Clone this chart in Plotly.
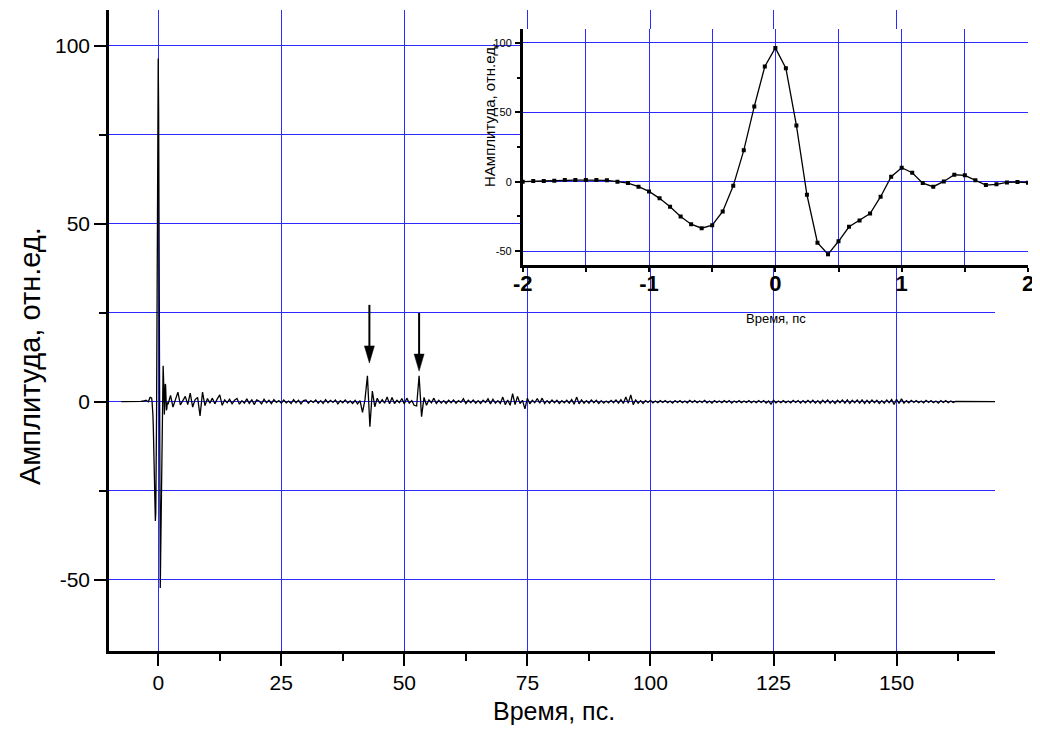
import plotly.graph_objects as go

# ---------------- data ----------------
# signal before the inset window (t = -7.5 ... -2.5, step 0.5 ps)
pre_t0, pre_dt = -7.5, 0.5
pre_amp = [0.0, 0.0, 0.1, 0.0, -0.1, 0.0, 0.1, 0.0, 0.1, 0.2, 0.4]

# main pulse, shown in the inset (t = -2 ... 2, step 1/12 ps)
inset_t0, inset_dt = -2.0, 1.0 / 12.0
inset_amp = [0.0, 0.5, 0.5, 0.7, 1.2, 1.2, 1.2, 1.2, 1.0, 0.0,
             -1.0, -3.6, -7.0, -12.0, -18.0, -25.0, -30.6, -33.5, -31.3, -21.4,
             -3.0, 22.6, 54.2, 83.0, 96.4, 81.7, 40.5, -9.4, -43.9, -52.3,
             -42.9, -32.5, -28.0, -22.9, -10.8, 3.6, 10.1, 6.5, -1.0, -3.6,
             0.2, 5.0, 4.6, 1.0, -2.4, -1.9, -0.5, -0.2, -0.7]

# signal after the pulse (t = 2.5 ... 170, step 0.5 ps)
post_t0, post_dt = 2.5, 0.5
post_amp = [
    1.8, -1.5, 0.8, 2.7, -0.9, 0.4, 1.5, -0.8, 2.4, -1.5,      # 2.5 - 7
    0.6, 1.2, -4.0, 2.7, -1.1, 0.9, -0.4, 1.0, -0.6, 0.8,      # 7.5 - 12
    1.9, -1.0, 0.5, -0.3, 0.7, -0.6, 0.4, 0.9, -0.7, 0.3,      # 12.5 - 17
    -0.4, 0.8, -0.5, 0.6, -0.8, 0.5, 0.2, -0.6, 0.7, -0.3,     # 17.5 - 22
    0.4, -0.5, 0.6, -0.2, 0.3, -0.4, 0.5, -0.3, 0.2, -0.5,     # 22.5 - 27
    0.6, -0.3, 0.4, -0.6, 0.3, 0.5, -0.4, 0.3, -0.2, 0.5,      # 27.5 - 32
    -0.4, 0.3, -0.5, 0.6, -0.3, 0.4, -0.2, 0.5, -0.6, 0.3,     # 32.5 - 37
    -0.3, 0.5, -0.4, 0.2, -0.5, 0.4, -0.6, 0.3, -3.0, 0.5,     # 37.5 - 42
    7.3, -7.0, 3.0, -1.4, 1.0, -0.5, 0.6, -0.4, 1.3, -0.6,     # 42.5 - 47
    1.2, -0.5, 0.4, -0.3, 0.9, -0.6, 1.0, -0.4, 0.3, -1.0,     # 47.5 - 52
    -1.2, 7.3, -4.2, 1.2, -1.0, 0.5, -0.3, 1.0, -0.5, 0.4,     # 52.5 - 57
    -0.4, 0.3, -0.5, 0.4, -0.3, 0.5, -0.4, 0.3, -0.2, 0.8,     # 57.5 - 62
    -0.5, 0.4, -0.3, 0.5, -0.4, 0.3, -0.5, 0.4, -0.2, 0.8,     # 62.5 - 67
    -0.6, 0.7, -0.4, 0.3, -0.5, 1.3, -0.8, 0.5, -1.0, 2.3,     # 67.5 - 72
    -0.8, 1.5, -0.5, 0.4, -2.0, 1.0, -0.6, 0.4, -0.3, 0.9,     # 72.5 - 77
    -0.4, 1.0, -0.5, 0.3, -0.4, 0.5, -0.3, 0.4, -0.5, 0.3,     # 77.5 - 82
    -0.3, 0.4, -0.4, 0.6, -0.7, 1.3, -0.6, 0.5, -0.4, 0.3,     # 82.5 - 87
    -0.4, 0.5, -0.3, 0.4, -0.5, 0.3, -0.4, 0.2, -0.3, 0.4,     # 87.5 - 92
    -0.3, 0.5, -0.4, 0.6, -0.5, 1.3, -0.4, 1.9, -0.8, 0.5,     # 92.5 - 97
    -0.4, 0.3, -0.5, 0.3, -0.2, 0.4, -0.3, 0.2, -0.3, 0.3,     # 97.5 - 102
    -0.2, 0.3, -0.3, 0.2, -0.4, 0.3, -0.2, 0.3, -0.3, 0.2,     # 102.5 - 107
    -0.3, 0.4, -0.2, 0.3, -0.3, 0.2, -0.2, 0.4, -0.3, 0.2,     # 107.5 - 112
    -0.4, 0.3, -0.2, 0.2, -0.3, 0.3, -0.2, 0.3, -0.4, 0.2,     # 112.5 - 117
    -0.2, 0.3, -0.3, 0.2, -0.2, 0.3, -0.3, 0.2, -0.3, 0.3,     # 117.5 - 122
    -0.2, 0.3, -0.4, 0.2, -0.7, 0.4, -0.3, 0.2, -0.3, 0.3,     # 122.5 - 127
    -0.3, 0.2, -0.3, 0.4, -0.2, 0.3, -0.4, 0.3, -0.3, 0.4,     # 127.5 - 132
    -0.3, 0.4, -0.4, 0.3, -0.5, 0.4, -0.3, 0.5, -0.4, 0.3,     # 132.5 - 137
    -0.5, 0.4, -0.3, 0.5, -0.4, 0.5, -0.5, 0.4, -0.3, 0.5,     # 137.5 - 142
    -0.4, 0.5, -0.5, 0.4, -0.4, 0.5, -0.3, 0.4, -0.5, 0.3,     # 142.5 - 147
    -0.4, 0.5, -0.3, 0.6, -0.8, 0.7, -0.5, 0.8, -0.4, 0.3,     # 147.5 - 152
    -0.3, 0.4, -0.2, 0.3, -0.3, 0.2, -0.3, 0.4, -0.2, 0.3,     # 152.5 - 157
    -0.3, 0.2, -0.4, 0.3, -0.2, 0.3, -0.3, 0.2, -0.2, 0.1,     # 157.5 - 162
    0.1, 0.0, 0.0, 0.0, 0.0, 0.0, 0.0, 0.0, 0.0, 0.0,          # 162.5 - 167
    0.0, 0.0, 0.0, 0.0, 0.0, 0.0,                              # 167.5 - 170
]

pre_t = [pre_t0 + i * pre_dt for i in range(len(pre_amp))]
inset_t = [inset_t0 + i * inset_dt for i in range(len(inset_amp))]
post_t = [post_t0 + i * post_dt for i in range(len(post_amp))]
main_t = pre_t + inset_t + post_t
main_amp = pre_amp + inset_amp + post_amp

# ticks
main_xticks = [0, 25, 50, 75, 100, 125, 150]
main_xminor = [12.5, 37.5, 62.5, 87.5, 112.5, 137.5, 162.5]
main_yticks = [-50, 0, 50, 100]
main_yminor = [-25, 25, 75]
inset_xticks = [-2, -1, 0, 1, 2]
inset_xminor = [-1.5, -0.5, 0.5, 1.5]
inset_yticks = [-50, 0, 50, 100]
inset_yminor = [-25, 25, 75]

# arrows marking the echoes
arrow_t = [42.9, 53.0]
arrow_tip = [10.9, 8.6]
arrow_tail = [27.2, 24.9]

# ---------------- layout geometry (screen pixels) ----------------
OFF = 8                      # page body margin of the html page
SW, SH = 1040, 742           # screen size
W, H = SW - OFF, SH - OFF    # figure size
# plot area in screen pixels
PL, PR, PT, PB = 109, 1030, 10, 651
ML, MR, MT, MB = PL - OFF, W - (PR - OFF), PT - OFF, H - (PB - OFF)
PW, PH = PR - PL, PB - PT


def px(x):
    return (x - PL) / PW


def py(y):
    return (PB - y) / PH


FONT = "Liberation Sans, Arial, sans-serif"
BLUE = "#2b2bff"

fig = go.Figure()
fig.add_trace(go.Scatter(x=main_t, y=main_amp, mode="lines",
                         line=dict(color="black", width=1.3),
                         xaxis="x", yaxis="y", showlegend=False, hoverinfo="skip"))
fig.add_trace(go.Scatter(x=inset_t, y=inset_amp, mode="lines+markers",
                         line=dict(color="black", width=1.3),
                         marker=dict(symbol="square", size=4, color="black"),
                         xaxis="x2", yaxis="y2", showlegend=False, hoverinfo="skip"))

fig.update_layout(
    width=W, height=H,
    margin=dict(l=ML, r=MR, t=MT, b=MB, autoexpand=False),
    paper_bgcolor="white", plot_bgcolor="white",
    font=dict(family=FONT, color="black"),
    xaxis=dict(
        domain=[0, px(995)], range=[-10, 170], anchor="y", automargin=False,
        showline=True, linecolor="black", linewidth=2.5,
        ticks="outside", ticklen=12, tickwidth=2, tickcolor="black",
        tickmode="array", tickvals=main_xticks, ticktext=[str(v) for v in main_xticks],
        tickfont=dict(size=21, family=FONT, color="black"), ticklabelstandoff=-1,
        showgrid=True, gridcolor=BLUE, gridwidth=1, zeroline=False,
        minor=dict(tickmode="array", tickvals=main_xminor, ticks="outside",
                   ticklen=7, tickwidth=2, tickcolor="black", showgrid=False),
    ),
    yaxis=dict(
        domain=[0, 1], range=[-70, 110], anchor="x", automargin=False,
        showline=True, linecolor="black", linewidth=2.5,
        ticks="outside", ticklen=12, tickwidth=2, tickcolor="black",
        tickmode="array", tickvals=main_yticks, ticktext=[str(v) for v in main_yticks],
        tickfont=dict(size=21, family=FONT, color="black"), ticklabelstandoff=0,
        showgrid=True, gridcolor=BLUE, gridwidth=1, zeroline=False,
        minor=dict(tickmode="array", tickvals=main_yminor, ticks="outside",
                   ticklen=7, tickwidth=2, tickcolor="black",
                   showgrid=True, gridcolor=BLUE, gridwidth=1),
    ),
    xaxis2=dict(
        domain=[px(522.7), px(1028)], range=[-2, 2], anchor="y2", automargin=False,
        showline=True, linecolor="black", linewidth=2.5,
        ticks="outside", ticklen=4, tickwidth=1.5, tickcolor="black",
        tickmode="array", tickvals=inset_xticks, ticktext=[str(v) for v in inset_xticks],
        tickfont=dict(size=22, family=FONT, color="black", weight="bold"),
        ticklabelstandoff=-7,
        showgrid=True, gridcolor=BLUE, gridwidth=1, zeroline=False,
        minor=dict(tickmode="array", tickvals=inset_xminor, ticks="outside",
                   ticklen=4, tickwidth=1.5, tickcolor="black",
                   showgrid=True, gridcolor=BLUE, gridwidth=1),
    ),
    yaxis2=dict(
        domain=[py(265), py(29)], range=[-60, 110], anchor="x2", automargin=False,
        showline=True, linecolor="black", linewidth=2.5,
        ticks="outside", ticklen=5, tickwidth=1.5, tickcolor="black",
        tickmode="array", tickvals=inset_yticks, ticktext=[str(v) for v in inset_yticks],
        tickfont=dict(size=11, family=FONT, color="black"), ticklabelstandoff=1,
        showgrid=True, gridcolor=BLUE, gridwidth=1, zeroline=False,
        minor=dict(tickmode="array", tickvals=inset_yminor, ticks="outside",
                   ticklen=3, tickwidth=1.5, tickcolor="black", showgrid=False),
    ),
)

annotations = [
    dict(text="Время, пс.", x=px(554), y=py(711), xref="paper", yref="paper",
         showarrow=False, xanchor="center", yanchor="middle",
         font=dict(size=25, family=FONT, color="black")),
    dict(text="Амплитуда, отн.ед.", x=px(30), y=py(356), xref="paper", yref="paper",
         showarrow=False, xanchor="center", yanchor="middle", textangle=-90,
         font=dict(size=29, family=FONT, color="black")),
    dict(text="Время, пс", x=px(776), y=py(318), xref="paper", yref="paper",
         showarrow=False, xanchor="center", yanchor="middle",
         font=dict(size=13, family=FONT, color="black")),
    dict(text="НАмплитуда, отн.ед.", x=px(489), y=py(115), xref="paper", yref="paper",
         showarrow=False, xanchor="center", yanchor="middle", textangle=-90,
         font=dict(size=15, family=FONT, color="black")),
]
fig.update_layout(annotations=annotations)

shapes = []
for t, tip, tail in zip(arrow_t, arrow_tip, arrow_tail):
    shapes.append(dict(type="line", xref="x", yref="y", x0=t, x1=t, y0=tail, y1=tip + 3,
                       line=dict(color="black", width=2), layer="above"))
    shapes.append(dict(type="path", xref="x", yref="y",
                       xsizemode="pixel", ysizemode="pixel", xanchor=t, yanchor=tip,
                       path="M-5,17 L5,17 L0,0 Z",
                       fillcolor="black", line=dict(color="black", width=0.5),
                       layer="above"))
fig.update_layout(shapes=shapes)

fig.write_html("out.html")
